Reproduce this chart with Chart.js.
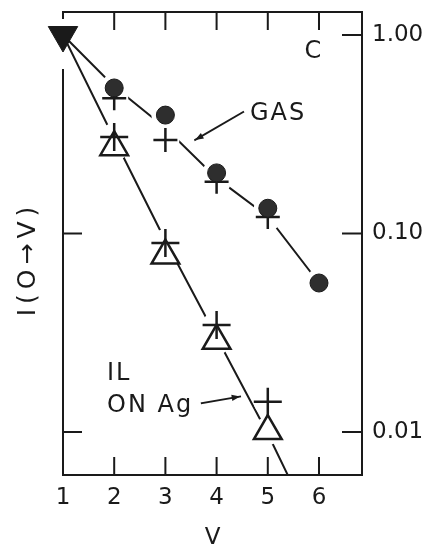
<!DOCTYPE html>
<html>
<head>
<meta charset="utf-8">
<script src="https://cdn.jsdelivr.net/npm/chart.js@4/dist/chart.umd.min.js"></script>
<style>
  html, body { margin: 0; padding: 0; background: #fff; }
  #wrap { width: 435px; height: 548px; }
</style>
</head>
<body>
<div id="wrap"><canvas id="c"></canvas></div>
<script>
// data
const xTicks = [1, 2, 3, 4, 5, 6];
const yTicks = [0.01, 0.1, 1];
const yTickLabels = ['0.01', '0.10', '1.00'];

const startX = [1];
const startY = [1.0];

const gasX = [2, 3, 4, 5, 6];
const gasCircleY = [0.541, 0.395, 0.202, 0.134, 0.0563];
const gasCrossX = [2, 3, 4, 5];
const gasCrossY = [0.48, 0.296, 0.182, 0.121];

const ilX = [2, 3, 4, 5];
const ilTriangleY = [0.272, 0.0774, 0.0288, 0.0101];
const ilCrossY = [0.306, 0.0896, 0.0346, 0.0142];

// hand-drawn guide lines
const gasLineX = [1, 2, 3, 4, 5, 6];
const gasLineY = [1.0, 0.55, 0.34, 0.19, 0.122, 0.0563];
const ilLineX = [1, 2, 3, 4, 5, 5.5];
const ilLineY = [1.0, 0.30, 0.092, 0.030, 0.0098, 0.0053];

const ink = '#1a1a1a';
const font = '"DejaVu Sans", sans-serif';

const pts = (xs, ys) => xs.map((x, i) => ({ x, y: ys[i] }));

// white discs under markers so the lines stop short of them
const haloPts = [].concat(
    pts(gasX, gasCircleY),
    pts(gasCrossX, gasCrossY),
    pts(ilX, ilTriangleY),
    pts(ilX, ilCrossY)
);

// frame, inward ticks and the lettering
const frame = {
    id: 'frame',
    afterDatasetsDraw(chart) {
        const { ctx, chartArea: a, scales: { x, y } } = chart;
        ctx.save();
        ctx.strokeStyle = ink;
        ctx.lineWidth = 2;
        ctx.lineCap = 'square';

        ctx.beginPath();
        ctx.moveTo(a.left, a.top + 6);
        ctx.lineTo(a.left, a.top);
        ctx.lineTo(a.right, a.top);
        ctx.lineTo(a.right, a.bottom);
        ctx.lineTo(a.left, a.bottom);
        ctx.lineTo(a.left, a.top + 58);
        ctx.stroke();

        ctx.beginPath();
        xTicks.forEach(v => {
            const px = x.getPixelForValue(v);
            if (px - a.left < 3) return;
            ctx.moveTo(px, a.bottom);
            ctx.lineTo(px, a.bottom - 17);
            ctx.moveTo(px, a.top);
            ctx.lineTo(px, a.top + 17);
        });
        yTicks.forEach(v => {
            const py = y.getPixelForValue(v);
            ctx.moveTo(a.right, py);
            ctx.lineTo(a.right - 19, py);
            if (py > a.top + 58) {
                ctx.moveTo(a.left, py);
                ctx.lineTo(a.left + 18, py);
            }
        });
        ctx.stroke();

        // labels
        ctx.fillStyle = ink;
        ctx.font = '24px ' + font;
        const at = (vx, vy) => [x.getPixelForValue(vx), y.getPixelForValue(vy)];

        let p = at(5.88, 0.821);
        ctx.textAlign = 'center';
        ctx.textBaseline = 'middle';
        ctx.fillText('C', p[0], p[1]);

        ctx.textAlign = 'left';
        ctx.textBaseline = 'alphabetic';
        ctx.letterSpacing = '2px';
        p = at(4.65, 0.373);
        ctx.fillText('GAS', p[0], p[1]);
        p = at(1.86, 0.0183);
        ctx.fillText('IL', p[0], p[1]);
        p = at(1.86, 0.0126);
        ctx.fillText('ON Ag', p[0], p[1]);

        // y title, reads bottom to top
        p = at(1, 0.0718);
        ctx.save();
        ctx.font = '25px ' + font;
        ctx.letterSpacing = '5px';
        ctx.translate(a.left - 35, p[1]);
        ctx.rotate(-Math.PI / 2);
        ctx.textAlign = 'center';
        ctx.textBaseline = 'middle';
        ctx.fillText('I(O\u2192V)', 3, 0);
        ctx.restore();
        ctx.letterSpacing = '0px';

        // pointer lines
        const arrow = (x1, y1, x2, y2, head) => {
            const [ax, ay] = at(x1, y1);
            const [bx, by] = at(x2, y2);
            ctx.lineWidth = 1.8;
            ctx.beginPath();
            ctx.moveTo(ax, ay);
            ctx.lineTo(bx, by);
            ctx.stroke();
            if (head) {
                const ang = Math.atan2(by - ay, bx - ax);
                ctx.beginPath();
                ctx.moveTo(bx, by);
                ctx.lineTo(bx - 9 * Math.cos(ang - 0.35), by - 9 * Math.sin(ang - 0.35));
                ctx.lineTo(bx - 9 * Math.cos(ang + 0.35), by - 9 * Math.sin(ang + 0.35));
                ctx.closePath();
                ctx.fill();
            }
        };
        arrow(4.52, 0.409, 3.58, 0.296, true);
        arrow(3.71, 0.01398, 4.46, 0.0151, true);

        ctx.restore();
    },
};

const markerSets = [
    {
        data: pts(startX, startY),
        pointStyle: 'triangle', rotation: 180, pointRadius: 17,
        backgroundColor: ink, borderColor: ink, borderWidth: 1, clip: false,
    },
    {
        data: pts(gasX, gasCircleY),
        pointStyle: 'circle', pointRadius: 9,
        backgroundColor: '#2e2e2e', borderColor: ink, borderWidth: 1, clip: false,
    },
    {
        data: pts(gasCrossX, gasCrossY),
        pointStyle: 'cross', pointRadius: 12,
        borderColor: ink, borderWidth: 2.5, clip: false,
    },
    {
        data: pts(ilX, ilCrossY),
        pointStyle: 'cross', pointRadius: 14,
        borderColor: ink, borderWidth: 2.5, clip: false,
    },
    {
        data: pts(ilX, ilTriangleY),
        pointStyle: 'triangle', pointRadius: 16,
        backgroundColor: '#fff', borderColor: ink, borderWidth: 2.5, clip: false,
    },
    {
        data: haloPts,
        pointStyle: 'circle', pointRadius: 14,
        backgroundColor: '#fff', borderColor: '#fff', borderWidth: 0, clip: false,
    },
    {
        data: pts(gasLineX, gasLineY),
        showLine: true, pointRadius: 0, borderColor: ink, borderWidth: 2,
    },
    {
        data: pts(ilLineX, ilLineY),
        showLine: true, pointRadius: 0, borderColor: ink, borderWidth: 2,
    },
];

new Chart(document.getElementById('c'), {
    type: 'scatter',
    data: { datasets: markerSets },
    options: {
        animation: false,
        responsive: true,
        maintainAspectRatio: false,
        layout: { autoPadding: false, padding: { left: 63, top: 12, right: 0, bottom: 0 } },
        plugins: { legend: { display: false }, tooltip: { enabled: false } },
        elements: { point: { hoverRadius: 0 } },
        scales: {
            x: {
                type: 'linear',
                min: 1,
                max: 6.84,
                grid: { display: false },
                border: { display: false },
                afterBuildTicks: s => { s.ticks = xTicks.map(v => ({ value: v })); },
                afterFit: s => { s.height = 73; s.paddingLeft = 0; s.paddingRight = 0; },
                ticks: {
                    color: ink,
                    padding: 1,
                    maxRotation: 0,
                    font: { family: font, size: 23 },
                    callback: v => String(v),
                },
                title: {
                    display: true,
                    text: 'V',
                    color: ink,
                    padding: { top: 0, bottom: -4 },
                    font: { family: font, size: 23 },
                },
            },
            y: {
                type: 'logarithmic',
                position: 'right',
                min: 0.00607,
                max: 1.306,
                grid: { display: false },
                border: { display: false },
                afterBuildTicks: s => { s.ticks = yTicks.map(v => ({ value: v })); },
                afterFit: s => { s.width = 73; s.paddingTop = 0; s.paddingBottom = 0; },
                ticks: {
                    color: ink,
                    padding: 2,
                    font: { family: font, size: 23 },
                    callback: (v, i) => yTickLabels[i],
                },
            },
        },
    },
    plugins: [frame],
});
</script>
</body>
</html>
